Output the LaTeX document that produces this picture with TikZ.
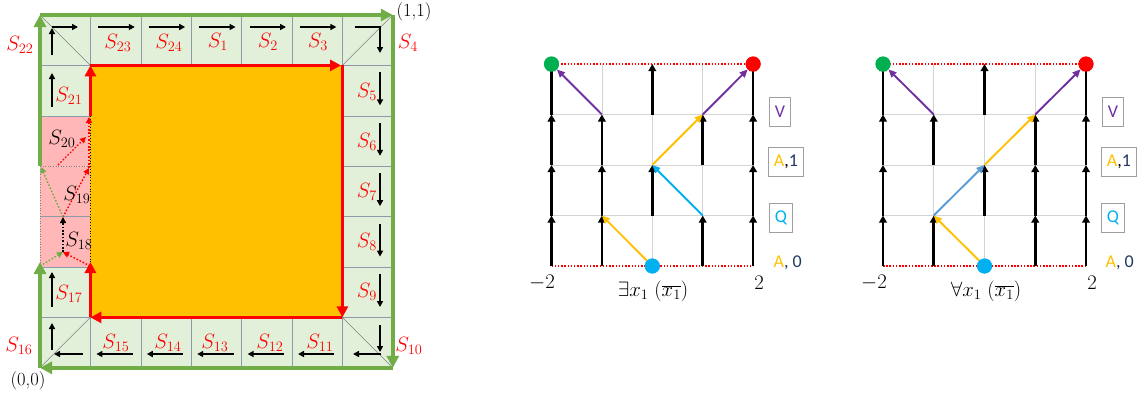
\documentclass[tikz,border=0pt]{standalone}
\usepackage{fontspec}
\newfontfamily\carlito{Carlito}
\usetikzlibrary{arrows.meta}
\definecolor{cellgreen}{HTML}{E2F0D9}
\definecolor{bordgreen}{HTML}{70AD47}
\definecolor{cellpink}{HTML}{FFB7B7}
\definecolor{orangefill}{HTML}{FFC000}
\definecolor{cellgray}{HTML}{8C9BAA}
\definecolor{qblue}{HTML}{00B0F0}
\definecolor{sblue}{HTML}{5B9BD5}
\definecolor{vpurple}{HTML}{7030A0}
\definecolor{ayellow}{HTML}{FFC000}
\definecolor{navy}{HTML}{1F3864}
\definecolor{dotgreen}{HTML}{00B050}
\definecolor{gridgray}{HTML}{D4D4D4}
\begin{document}
\begin{tikzpicture}[x=1pt,y=-1pt,
  cline/.style={draw=cellgray, line width=0.6pt},
  diag/.style={draw=gray, line width=0.5pt},
  redb/.style={draw=red, line width=3.6pt, -{Triangle[length=11pt,width=11pt]}},
  greenb/.style={draw=bordgreen, line width=4pt, -{Triangle[length=12pt,width=12pt]}},
  carr/.style={draw=black, line width=1.5pt, -{Triangle[length=6pt,width=6pt]}},
  rdot/.style={draw=red, line width=1.4pt, dash pattern=on 1.6pt off 1.8pt, -{Triangle[length=6pt,width=6pt]}},
  gdot/.style={draw=bordgreen, line width=1.4pt, dash pattern=on 1.6pt off 1.8pt, -{Triangle[length=6pt,width=6pt]}},
  kdot/.style={draw=black, line width=1.4pt, dash pattern=on 1.6pt off 1.8pt, -{Triangle[length=6pt,width=6pt]}},
  slab/.style={text=red, font=\fontsize{19.5}{22}\selectfont, inner sep=0pt},
  klab/.style={text=black, font=\fontsize{19.5}{22}\selectfont, inner sep=0pt},
  tlab/.style={text=black, font=\fontsize{18.5}{21}\selectfont, inner sep=0pt},
  ]
\useasboundingbox (0,0) rectangle (1143,400);
% ---------------- left diagram ----------------
\fill[cellgreen] (40,15) rectangle (392.8,367.8);
\fill[cellpink] (40,115.8) rectangle (90.4,267);
\fill[orangefill] (90.4,65.4) rectangle (342.4,317.4);
\foreach \k in {1,...,6}{
  \draw[cline] ({40+50.4*\k},15) -- ({40+50.4*\k},65.4);
  \draw[cline] ({40+50.4*\k},317.4) -- ({40+50.4*\k},367.8);
  \draw[cline] (342.4,{15+50.4*\k}) -- (392.8,{15+50.4*\k});
}
\foreach \k in {1,2,4,5,6}{
  \draw[cline] (40,{15+50.4*\k}) -- (90.4,{15+50.4*\k});
}
\draw[draw=gray, line width=0.6pt, dotted] (40,166.2) -- (90.4,166.2);
\draw[draw=gray, line width=0.6pt, dotted] (40,166.2) -- (40,267);
\draw[draw=black, line width=0.8pt, dotted] (90.4,115.8) -- (90.4,267);
\draw[diag] (40,15) -- (90.4,65.4);
\draw[diag] (342.4,65.4) -- (392.8,15);
\draw[diag] (342.4,317.4) -- (392.8,367.8);
\draw[diag] (40,367.8) -- (90.4,317.4);
% cell arrows
\foreach \k in {1,...,5}{
  \draw[carr] ({40+50.4*\k+8},27) -- ({40+50.4*(\k+1)-6},27);
  \draw[carr] (380,{15+50.4*\k+7}) -- (380,{15+50.4*\k+40});
  \draw[carr] ({40+50.4*(\k+1)-8},354) -- ({40+50.4*\k+6},354);
}
\draw[carr] (52,55) -- (52,28);
\draw[carr] (52,27) -- (78,27);
\draw[carr] (355,27) -- (380,27) -- (380,53);
\draw[carr] (380,325) -- (380,352);
\draw[carr] (381,354) -- (353,354);
\draw[carr] (83,354) -- (54,354);
\draw[carr] (52,350) -- (52,323);
\draw[carr] (52,307) -- (52,272);
\draw[carr] (52,107) -- (52,73);
% pink dotted arrows
\coordinate (pa) at (63,252);
\coordinate (pb) at (63,217);
\coordinate (pc) at (89,168);
\coordinate (pd) at (89,117);
\coordinate (pe) at (58,165);
\coordinate (pf) at (86,137);
\coordinate (pg) at (40,266);
\coordinate (ph) at (90,266);
\coordinate (pi) at (41,167);
\draw[rdot] (ph) -- (pa);
\draw[gdot] (pg) -- (pa);
\draw[kdot] (pa) -- (pb);
\draw[rdot] (pb) -- (pc);
\draw[gdot] (pb) -- (pi);
\draw[rdot] (pc) -- (pd);
\draw[rdot] (pe) -- (pf);
% red boundary
\draw[redb] (90.4,65.4) -- (341,65.4);
\draw[redb] (342.4,65.4) -- (342.4,317.4);
\draw[redb] (342.4,317.4) -- (90.4,317.4);
\draw[redb] (90.4,317.4) -- (90.4,262);
\draw[redb] (90.4,115.8) -- (90.4,65.4);
% green boundary
\draw[greenb] (40,15) -- (392.8,15);
\draw[greenb] (392.8,15) -- (392.8,367.8);
\draw[greenb] (392.8,367.8) -- (40,367.8);
\draw[greenb] (40,367.8) -- (40,262);
\draw[greenb] (40,166.2) -- (40,15);
% labels
\node[slab] (s22) at (20,45) {$S_{22}$};
\node[slab] (s23) at (118,43) {$S_{23}$};
\node[slab] (s24) at (169,43) {$S_{24}$};
\node[slab] (s1) at (218,42) {$S_{1}$};
\node[slab] (s2) at (268,42) {$S_{2}$};
\node[slab] (s3) at (318,42) {$S_{3}$};
\node[slab] (s4) at (408,43) {$S_{4}$};
\node[slab] (s5) at (367,92) {$S_{5}$};
\node[slab] (s6) at (367,142) {$S_{6}$};
\node[slab] (s7) at (367,192) {$S_{7}$};
\node[slab] (s8) at (367,242) {$S_{8}$};
\node[slab] (s9) at (367,292) {$S_{9}$};
\node[slab] (s10) at (409,346) {$S_{10}$};
\node[slab] (s11) at (320,343) {$S_{11}$};
\node[slab] (s12) at (270,343) {$S_{12}$};
\node[slab] (s13) at (215,343) {$S_{13}$};
\node[slab] (s14) at (168,343) {$S_{14}$};
\node[slab] (s15) at (116,343) {$S_{15}$};
\node[slab] (s16) at (19,346) {$S_{16}$};
\node[slab] (s17) at (69,294) {$S_{17}$};
\node[slab] (s21) at (69,96) {$S_{21}$};
\node[klab] (s20) at (62,139) {$S_{20}$};
\node[klab] (s19) at (77,195) {$S_{19}$};
\node[klab] (s18) at (79,241) {$S_{18}$};
\node[tlab] (o00) at (28,381) {(0,0)};
\node[tlab] (o11) at (414,12) {(1,1)};
% ---------------- middle diagram ----------------
\tikzset{
  gline/.style={draw=gridgray, line width=0.7pt},
  rline/.style={draw=red, line width=1.3pt, dash pattern=on 1.5pt off 1.7pt},
  varr/.style={draw=black, line width=2.6pt, -{Triangle[length=7pt,width=7.5pt]}},
  darr/.style={line width=1.9pt, -{Triangle[length=8pt,width=7pt]}},
  bigdot/.style={circle, inner sep=0pt, minimum size=15pt},
  axl/.style={font=\fontsize{19.5}{22}\selectfont, inner sep=0pt},
  boxl/.style={draw=gray!75, line width=0.8pt, font=\carlito\fontsize{18}{21}\selectfont, minimum height=29pt, inner xsep=5.5pt, anchor=west},
  txtl/.style={font=\carlito\fontsize{18}{21}\selectfont, inner xsep=5.5pt, anchor=west},
}
\begin{scope}[xshift=551.5pt, yshift=-266pt, x=50.4pt, y=50.5pt]
  \foreach \i in {0,...,4} \foreach \j in {0,...,4} \coordinate (m\i\j) at (\i,\j);
  \foreach \k in {1,2,3} {
    \draw[gline] (m\k0) -- (m\k4);
    \draw[gline] (m0\k) -- (m4\k);
  }
  \draw[rline] (m00) -- (m40);
  \draw[rline] (m04) -- (m44);
  \foreach \i/\j [evaluate=\j as \jj using int(\j+1)] in
    {0/0,0/1,0/2,0/3,1/0,1/1,1/2,2/1,2/3,3/0,3/2,4/0,4/1,4/2,4/3}
    \draw[varr] (m\i\j) -- (m\i\jj);
  \node[bigdot, fill=dotgreen] (mg) at (m04) {};
  \node[bigdot, fill=red] (mr) at (m44) {};
  \node[bigdot, fill=qblue] (mb) at (m20) {};
  \draw[darr, draw=ayellow] (mb) -- (m11);
  \draw[darr, draw=qblue] (m31) -- (m22);
  \draw[darr, draw=ayellow] (m22) -- (m33);
  \draw[darr, draw=vpurple] (m13) -- (mg);
  \draw[darr, draw=vpurple] (m33) -- (mr);
  \node[bigdot, fill=dotgreen] at (m04) {};
  \node[bigdot, fill=red] at (m44) {};
  \node[bigdot, fill=qblue] at (m20) {};
\end{scope}
\node[axl] (mlo) at (542,283) {$-2$};
\node[axl] (mhi) at (759,283) {$2$};
\node[axl] (mcap) at (653,291) {$\exists x_1\ (\overline{x_1})$};
\node[boxl] (mV) at (769,112) {\textcolor{vpurple}{V}};
\node[boxl] (mA1) at (768,162) {\textcolor{ayellow}{A},\textcolor{navy}{1}};
\node[boxl] (mQ) at (769,218) {\textcolor{qblue}{Q}};
\node[txtl] (mA0) at (768,263) {\textcolor{ayellow}{A}\textcolor{navy}{, 0}};
% ---------------- right diagram ----------------
\begin{scope}[xshift=883pt, yshift=-266pt, x=50.75pt, y=50.5pt]
  \foreach \i in {0,...,4} \foreach \j in {0,...,4} \coordinate (r\i\j) at (\i,\j);
  \foreach \k in {1,2,3} {
    \draw[gline] (r\k0) -- (r\k4);
    \draw[gline] (r0\k) -- (r4\k);
  }
  \draw[rline] (r00) -- (r40);
  \draw[rline] (r04) -- (r44);
  \foreach \i/\j [evaluate=\j as \jj using int(\j+1)] in
    {0/0,0/1,0/2,0/3,1/0,1/2,2/1,2/3,3/0,3/1,3/2,4/0,4/1,4/2,4/3}
    \draw[varr] (r\i\j) -- (r\i\jj);
  \node[bigdot, fill=dotgreen] (rg) at (r04) {};
  \node[bigdot, fill=red] (rr) at (r44) {};
  \node[bigdot, fill=qblue] (rb) at (r20) {};
  \draw[darr, draw=ayellow] (rb) -- (r11);
  \draw[darr, draw=sblue] (r11) -- (r22);
  \draw[darr, draw=ayellow] (r22) -- (r33);
  \draw[darr, draw=vpurple] (r13) -- (rg);
  \draw[darr, draw=vpurple] (r33) -- (rr);
  \node[bigdot, fill=dotgreen] at (r04) {};
  \node[bigdot, fill=red] at (r44) {};
  \node[bigdot, fill=qblue] at (r20) {};
\end{scope}
\node[axl] (rlo) at (874,283) {$-2$};
\node[axl] (rhi) at (1092,283) {$2$};
\node[axl] (rcap) at (986,291) {$\forall x_1\ (\overline{x_1})$};
\node[boxl] (rV) at (1102,112) {\textcolor{vpurple}{V}};
\node[boxl] (rA1) at (1101,162) {\textcolor{ayellow}{A},\textcolor{navy}{1}};
\node[boxl] (rQ) at (1101,218) {\textcolor{qblue}{Q}};
\node[txtl] (rA0) at (1100,263) {\textcolor{ayellow}{A}\textcolor{navy}{, 0}};
\end{tikzpicture}
\end{document}
